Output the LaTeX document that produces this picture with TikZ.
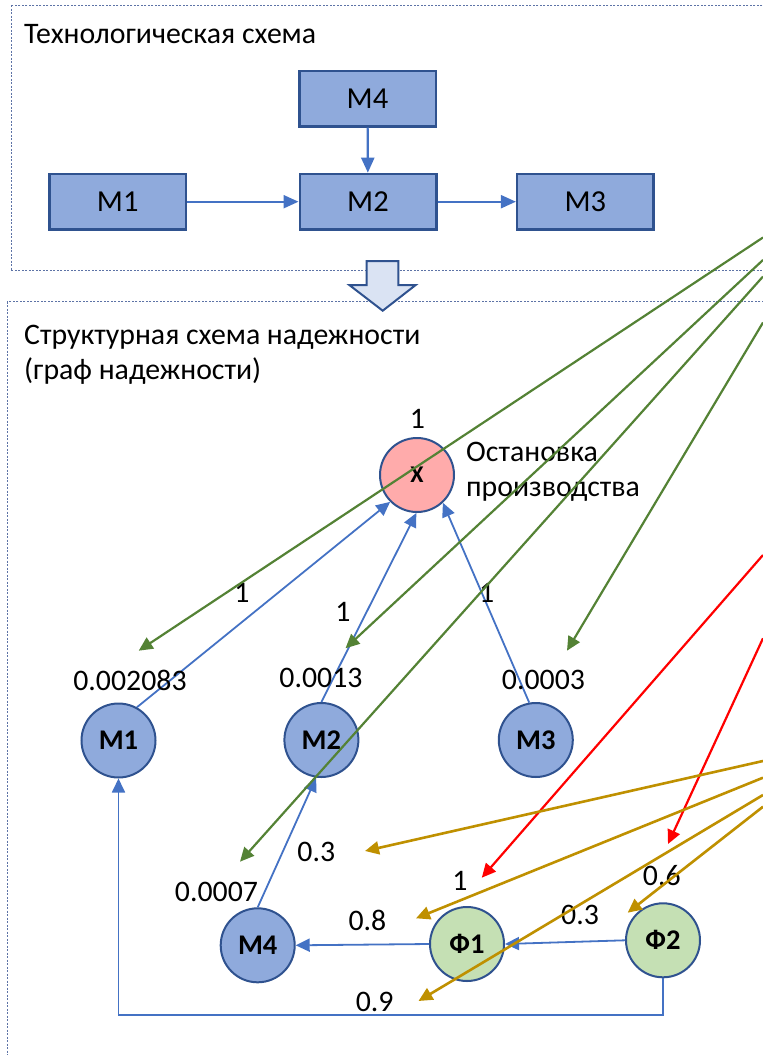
\documentclass[tikz,border=0pt]{standalone}
\usepackage{fontspec}
\setmainfont{Carlito}
\usetikzlibrary{arrows.meta}
\definecolor{boxfill}{HTML}{8FAADC}
\definecolor{boxline}{HTML}{2F528F}
\definecolor{conn}{HTML}{4472C4}
\definecolor{greenl}{HTML}{548235}
\definecolor{goldl}{HTML}{BF9000}
\definecolor{redl}{HTML}{FF0000}
\definecolor{pinkf}{HTML}{FFABAB}
\definecolor{greenf}{HTML}{C5E0B4}
\definecolor{framec}{HTML}{5D73A6}
\definecolor{arrowf}{HTML}{DAE3F3}
\begin{document}
\begin{tikzpicture}[x=1pt,y=-1pt,
  frame/.style={draw=framec, line width=1pt, dash pattern=on 2pt off 1.5pt},
  txt/.style={inner sep=0pt, font=\fontsize{29.8}{35}\selectfont},
  blk/.style={draw=boxline, fill=boxfill, line width=2.5pt, minimum width=136.5pt,
    minimum height=55.5pt, inner sep=0pt, font=\fontsize{30.5}{36}\selectfont},
  circ/.style={circle, draw=boxline, line width=2pt, minimum size=74pt, inner sep=0pt,
    font=\bfseries\fontsize{28.5}{34}\selectfont},
  flow/.style={draw=conn, line width=2.2pt, -{Triangle[length=15pt,width=13pt]}},
  link/.style={draw=conn, line width=1.8pt, -{Triangle[length=14pt,width=13pt]}},
  gline/.style={draw=greenl, line width=2.2pt, -{Triangle[length=14pt,width=13pt]}},
  rline/.style={draw=redl, line width=2.2pt, -{Triangle[length=14pt,width=13pt]}},
  yline/.style={draw=goldl, line width=2.6pt, -{Triangle[length=14pt,width=13pt]}}]
\useasboundingbox (0,0) rectangle (763,1055);
\clip (0,0) rectangle (763,1055);

% dotted frames
\draw[frame] (11,5) rectangle (800,270.7);
\draw[frame] (7.3,301.7) rectangle (800,1100);

% transition arrow between the two schemes
\draw[fill=arrowf, draw=boxline, line width=2pt, line join=miter]
  (366.7,261) -- (398.3,261) -- (398.3,285) -- (415.7,285) -- (382.7,310.7)
  -- (349.3,285) -- (366.7,285) -- cycle;

% technological scheme
\node[txt, anchor=base west] (ttitle) at (24,43) {Технологическая схема};
\node[blk] (b4) at (367.5,98.5) {М4};
\node[blk] (b1) at (117.7,201.7) {М1};
\node[blk] (b2) at (368,201.7) {М2};
\node[blk] (b3) at (585.4,201.7) {М3};
\draw[flow] (b1) -- (b2);
\draw[flow] (b2) -- (b3);
\draw[flow] (b4) -- (b2);

% reliability graph
\node[txt, anchor=base west] (stitle1) at (24,344.3) {Структурная схема надежности};
\node[txt, anchor=base west] (stitle2) at (24,379.3) {(граф надежности)};

\node[circ, fill=pinkf, font=\bfseries\fontsize{24}{28}\selectfont] (x) at (417,475) {X};
\node[circ, fill=boxfill] (m1) at (118.5,740.5) {М1};
\node[circ, fill=boxfill] (m2) at (321.4,740) {М2};
\node[circ, fill=boxfill] (m3) at (535.8,740) {М3};
\node[circ, fill=boxfill] (m4) at (257.7,945.3) {М4};
\node[circ, fill=greenf] (f1) at (467,944) {Ф1};
\node[circ, fill=greenf] (f2) at (663,940.3) {Ф2};
\coordinate (loop) at (0,1015);

\draw[link] (m1.61) -- (x.225);
\draw[link] (m2.north) -- (x.-91);
\draw[link] (m3.100) -- (x.-47);
\draw[link] (m4.north) -- (m2.-98);
\draw[link] (f1.west) -- (m4.east);
\draw[link] (f2.west) -- (f1.east);
\draw[link] (f2.south) -- (f2.south |- loop) -| (m1.south);

% labels
\node[txt] (lx) at (417.5,419) {1};
\node[txt, anchor=base west] (stop1) at (466,461.7) {Остановка};
\node[txt, anchor=base west] (stop2) at (466,496.5) {производства};
\node[txt] (e1) at (241.8,593) {1};
\node[txt] (e2) at (343,611.7) {1};
\node[txt] (e3) at (486.6,593) {1};
\node[txt] (p1) at (130,680) {0.002083};
\node[txt] (p2) at (321,678) {0.0013};
\node[txt] (p3) at (543.5,680) {0.0003};
\node[txt] (p4) at (216.5,891.7) {0.0007};
\node[txt] (q1) at (316.3,851.7) {0.3};
\node[txt] (q2) at (460,880.7) {1};
\node[txt] (q3) at (367.4,920) {0.8};
\node[txt] (q4) at (580,915) {0.3};
\node[txt] (q5) at (661.8,876) {0.6};
\node[txt] (q6) at (374.7,1001.7) {0.9};

% incoming references from the right
\coordinate (gs1) at (763,237.5);
\coordinate (gs2) at (763,260);
\coordinate (gs3) at (763,276.5);
\coordinate (gs4) at (763,322.5);
\coordinate (gt1) at (138.7,650.7);
\coordinate (gt2) at (345.5,648.3);
\coordinate (gt3) at (240,861.7);
\coordinate (gt4) at (567,650.7);
\draw[gline] (gs1) -- (gt1);
\draw[gline] (gs2) -- (gt2);
\draw[gline] (gs3) -- (gt3);
\draw[gline] (gs4) -- (gt4);

\coordinate (rs1) at (763,555);
\coordinate (rs2) at (763,638.3);
\coordinate (rt1) at (481.8,877.7);
\coordinate (rt2) at (668,844);
\draw[rline] (rs1) -- (rt1);
\draw[rline] (rs2) -- (rt2);

\coordinate (ys1) at (763,761);
\coordinate (ys2) at (763,777.7);
\coordinate (ys3) at (763,795);
\coordinate (ys4) at (763,806.7);
\coordinate (yt1) at (365,851);
\coordinate (yt2) at (416,918.3);
\coordinate (yt3) at (418.5,1001);
\coordinate (yt4) at (627.7,912.7);
\draw[yline] (ys1) -- (yt1);
\draw[yline] (ys2) -- (yt2);
\draw[yline] (ys3) -- (yt3);
\draw[yline] (ys4) -- (yt4);
\end{tikzpicture}
\end{document}
